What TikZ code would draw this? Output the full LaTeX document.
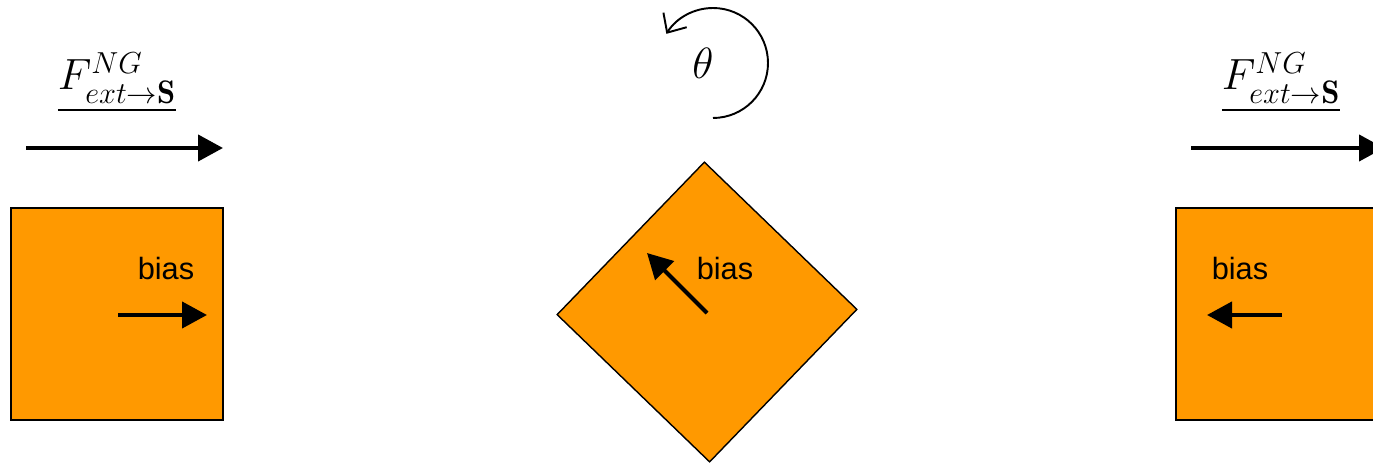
\documentclass[tikz,border=0pt]{standalone}
\usepackage{fontspec}
\setsansfont{Liberation Sans}
\usepackage{amsmath}
\usetikzlibrary{arrows.meta, positioning}
\definecolor{bodyorange}{RGB}{255,153,0}

\begin{document}
\begin{tikzpicture}[
			x=0.02cm, y=0.02cm,
			body/.style={rectangle, draw, fill=bodyorange, line width=0.8pt, minimum size=4.24cm, inner sep=0pt},
			vec/.style={-{Triangle[length=0.5cm, width=0.52cm]}, line width=2.4pt},
			rot/.style={-{Straight Barb[length=0.3cm, width=0.55cm]}, line width=1.1pt},
			tag/.style={font=\sffamily\fontsize{17.5}{20}\selectfont},
			flabel/.style={font=\fontsize{26.5}{30}\selectfont}
			]
			\useasboundingbox (0,0) rectangle (1373,463);
			\clip (0,0) rectangle (1373,463);
			
			% bodies
			\node[body] (sqL) at (117,149) {};
			\node[body, rotate=46] (dia) at (707,151) {};
			\node[body] (sqR) at (1282,149) {};
			
			% bias directions
			\coordinate (bL0) at (118,148);
			\coordinate (bL1) at (207,148);
			\coordinate (bM0) at (707,150);
			\coordinate (bM1) at (647,210);
			\coordinate (bR0) at (1282,148);
			\coordinate (bR1) at (1207,148);
			\draw[vec] (bL0) -- (bL1);
			\draw[vec] (bM0) -- (bM1);
			\draw[vec] (bR0) -- (bR1);
			\node[tag] (tL) at (166,194) {bias};
			\node[tag] (tM) at (725,194) {bias};
			\node[tag] (tR) at (1240,194) {bias};
			
			% external force
			\coordinate (fL0) at (26,315);
			\coordinate (fL1) at (223,315);
			\coordinate (fR0) at (1191,315);
			\coordinate (fR1) at (1384,315);
			\draw[vec] (fL0) -- (fL1);
			\draw[vec] (fR0) -- (fR1);
			\node[flabel] (nL) at (117,380) {$\underline{F^{NG}_{ext\to\mathbf{S}}}$};
			\node[flabel] (nR) at (1281,380) {$\underline{F^{NG}_{ext\to\mathbf{S}}}$};
			
			% rotation
			\coordinate (rc) at (713,400);
			\node[font=\fontsize{28}{32}\selectfont] (theta) at (703,400) {$\theta$};
			\draw[rot] ([yshift=-1.1cm]rc) arc[start angle=-90, end angle=148, radius=1.1cm];
		\end{tikzpicture}
\end{document}
